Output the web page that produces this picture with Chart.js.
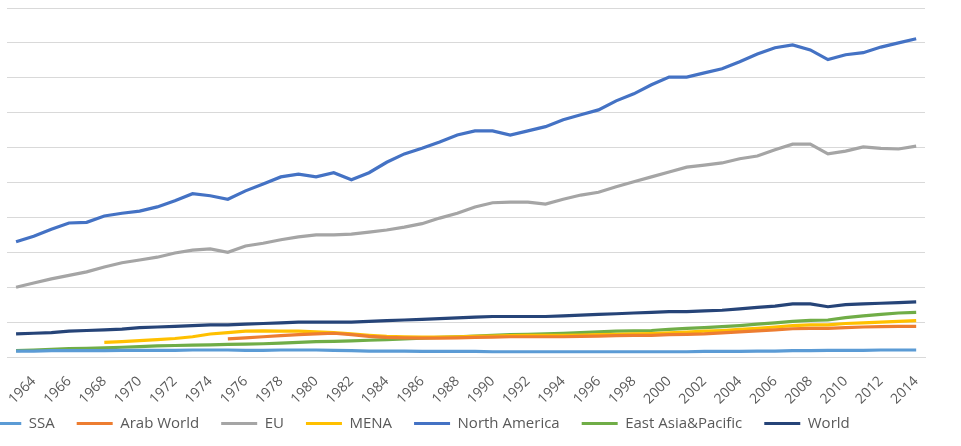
<!DOCTYPE html>
<html>
<head>
<meta charset="utf-8">
<script src="https://cdn.jsdelivr.net/npm/chart.js@4/dist/chart.umd.min.js"></script>
<style>
  html, body { margin: 0; padding: 0; background: #fff; }
  #wrap { width: 961px; height: 446px; }
</style>
</head>
<body>
<div id="wrap"><canvas id="myChart" width="961" height="446"></canvas></div>
<script>
// Années (axe des x)
const years = [1963, 1964, 1965, 1966, 1967, 1968, 1969, 1970, 1971, 1972,
    1973, 1974, 1975, 1976, 1977, 1978, 1979, 1980, 1981, 1982,
    1983, 1984, 1985, 1986, 1987, 1988, 1989, 1990, 1991, 1992,
    1993, 1994, 1995, 1996, 1997, 1998, 1999, 2000, 2001, 2002,
    2003, 2004, 2005, 2006, 2007, 2008, 2009, 2010, 2011, 2012,
    2013, 2014];

// Valeurs par région (en milliers)
const ssa = [0.85, 0.85, 0.9, 0.9, 0.9, 0.9, 0.95, 0.95, 0.95, 0.95, 1.0, 1.0,
    1.0, 0.95, 0.95, 1.0, 1.0, 1.0, 0.95,
    0.9, 0.85, 0.85, 0.85, 0.8, 0.8, 0.8, 0.8, 0.75, 0.75, 0.75, 0.75, 0.75,
    0.75, 0.75, 0.75, 0.75, 0.75, 0.75, 0.75, 0.8, 0.8,
    0.8, 0.85, 0.85, 0.9, 0.9, 0.95, 0.95, 0.95, 1.0, 1.0, 1.0];

const arabWorld = [null, null, null, null, null, null, null, null, null, null, null, null,
    2.6, 2.75, 2.9, 3.05, 3.2, 3.3, 3.4, 3.2,
    2.95, 2.8, 2.75, 2.7, 2.7, 2.75, 2.8, 2.85, 2.9, 2.9,
    2.9, 2.9, 2.95, 3.0, 3.05, 3.1, 3.1, 3.2, 3.25, 3.3,
    3.45, 3.6, 3.75, 3.9, 4.05, 4.1, 4.1, 4.2, 4.3, 4.35,
    4.4, 4.4];

const eu = [10.0, 10.6, 11.2, 11.7, 12.2, 12.9, 13.5, 13.9, 14.3, 14.9,
    15.3, 15.5, 15.0, 15.9, 16.3, 16.8, 17.2, 17.5, 17.5, 17.6,
    17.9, 18.2, 18.6, 19.1, 19.9, 20.6, 21.5, 22.1, 22.2, 22.2,
    21.9, 22.6, 23.2, 23.6, 24.4, 25.1, 25.8, 26.5, 27.2, 27.5,
    27.8, 28.4, 28.8, 29.7, 30.5, 30.5, 29.1, 29.5, 30.1, 29.9,
    29.8, 30.2];

const mena = [null, null, null, null, null,
    2.1, 2.2, 2.35, 2.5, 2.65,
    2.9, 3.3, 3.5, 3.7, 3.75, 3.7, 3.7, 3.6, 3.5, 3.3,
    3.1, 2.95, 2.9, 2.85, 2.85, 2.9, 2.95, 3.0, 3.05, 3.1,
    3.1, 3.1, 3.15, 3.2, 3.25, 3.3, 3.35, 3.45, 3.55, 3.7,
    3.8, 3.95, 4.1, 4.3, 4.5, 4.6, 4.6, 4.8, 4.9, 5.0,
    5.1, 5.2];

const northAmerica = [16.5, 17.3, 18.3, 19.2, 19.3, 20.2, 20.6, 20.9, 21.5, 22.4,
    23.4, 23.1, 22.6, 23.8, 24.8, 25.8, 26.2, 25.8, 26.4, 25.4,
    26.4, 27.9, 29.1, 29.9, 30.8, 31.8, 32.4, 32.4, 31.8, 32.4,
    33.0, 34.0, 34.7, 35.4, 36.7, 37.7, 39.0, 40.1, 40.1, 40.7,
    41.3, 42.3, 43.4, 44.3, 44.7, 44.0, 42.6, 43.3, 43.6, 44.4,
    45.0, 45.6];

const eastAsiaPacific = [0.9, 1.0, 1.1, 1.2, 1.25, 1.3, 1.4, 1.5, 1.6, 1.65,
    1.7, 1.75, 1.8, 1.85, 1.9, 2.0, 2.1, 2.2, 2.25, 2.3,
    2.4, 2.5, 2.6, 2.7, 2.8, 2.9, 3.0, 3.1, 3.2, 3.25,
    3.3, 3.4, 3.5, 3.6, 3.7, 3.75, 3.8, 3.95, 4.1, 4.2,
    4.35, 4.5, 4.7, 4.9, 5.1, 5.25, 5.3, 5.65, 5.9, 6.1,
    6.3, 6.4];

const world = [3.3, 3.4, 3.5, 3.7, 3.8, 3.9, 4.0, 4.2, 4.3, 4.4,
    4.5, 4.6, 4.6, 4.7, 4.8, 4.9, 5.0, 5.0, 5.0, 5.0,
    5.1, 5.2, 5.3, 5.4, 5.5, 5.6, 5.7, 5.8, 5.8, 5.8,
    5.8, 5.9, 6.0, 6.1, 6.2, 6.3, 6.4, 6.5, 6.5, 6.6,
    6.7, 6.9, 7.1, 7.3, 7.6, 7.6, 7.2, 7.5, 7.6, 7.7,
    7.8, 7.9];

const seriesNames = ['SSA', 'Arab World', 'EU', 'MENA', 'North America', 'East Asia&Pacific', 'World'];
const seriesColors = ['#5B9BD5', '#ED7D31', '#A5A5A5', '#FFC000', '#4472C4', '#70AD47', '#264478'];
const seriesValues = [ssa, arabWorld, eu, mena, northAmerica, eastAsiaPacific, world];

const textColor = '#595959';
const gridColor = '#d9d9d9';

// Décale la légende (gauche et haut) après le calcul de la mise en page
// (le bas reste en place : la légende est découpée à sa propre boîte)
const legendShift = {
    id: 'legendShift',
    afterLayout(chart) {
        const lg = chart.legend;
        if (lg) {
            lg.left -= 48;
            lg.right -= 48;
            lg.top -= 22;
        }
    }
};

function createChart() {
    const ctx = document.getElementById('myChart').getContext('2d');

    const datasets = seriesNames.map((name, i) => ({
        label: name,
        data: seriesValues[i],
        borderColor: seriesColors[i],
        backgroundColor: seriesColors[i],
        borderWidth: 3.2,
        pointRadius: 0,
        tension: 0,
        spanGaps: false
    }));

    return new Chart(ctx, {
        type: 'line',
        data: { labels: years, datasets: datasets },
        options: {
            responsive: false,
            animation: false,
            layout: { padding: { left: 6, right: 36, top: 8, bottom: 0 } },
            scales: {
                x: {
                    type: 'category',
                    offset: true,
                    grid: { display: false, drawTicks: false },
                    border: { display: true, color: gridColor, width: 1 },
                    ticks: {
                        autoSkip: false,
                        minRotation: 45,
                        maxRotation: 45,
                        padding: 16,
                        color: textColor,
                        font: { family: 'Open Sans', size: 14 },
                        // une étiquette sur deux (années paires)
                        callback: (val, i) => (years[i] % 2 === 0 ? String(years[i]) : '')
                    },
                    afterFit: (axis) => { axis.height = 59; }
                },
                y: {
                    min: 0,
                    max: 50,
                    ticks: { display: false, stepSize: 5 },
                    grid: { color: gridColor, lineWidth: 1, drawTicks: false },
                    border: { display: false }
                }
            },
            plugins: {
                legend: {
                    display: true,
                    position: 'bottom',
                    maxHeight: 30,
                    labels: {
                        usePointStyle: true,
                        pointStyle: 'line',
                        pointStyleWidth: 36,
                        padding: 22,
                        color: textColor,
                        font: { family: 'Open Sans', size: 15 }
                    }
                },
                tooltip: { enabled: false }
            }
        },
        plugins: [legendShift]
    });
}

createChart();
</script>
</body>
</html>
